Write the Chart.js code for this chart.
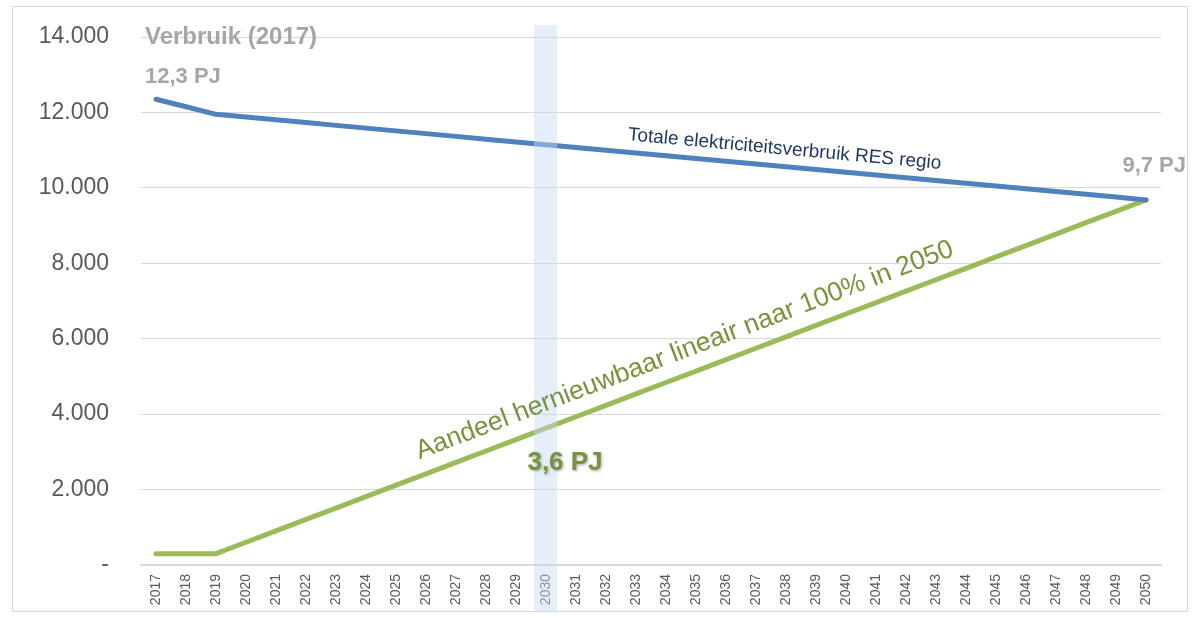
<!DOCTYPE html>
<html>
<head>
<meta charset="utf-8">
<script src="https://cdn.jsdelivr.net/npm/chart.js@4"></script>
<style>
  html, body { margin: 0; padding: 0; background: #fff; }
  #wrap { width: 1192px; height: 618px; }
</style>
</head>
<body>
<div id="wrap"><canvas id="grafiek" width="1192" height="618"></canvas></div>
<script>
const jaren = ['2017', '2018', '2019', '2020', '2021', '2022', '2023', '2024', '2025', '2026', '2027', '2028',
  '2029', '2030', '2031', '2032', '2033', '2034', '2035', '2036', '2037', '2038', '2039', '2040', '2041',
  '2042', '2043', '2044', '2045', '2046', '2047', '2048', '2049', '2050']

const verbruik = [12350, 12150, 11950, 11877, 11804, 11730, 11657, 11584, 11511, 11438, 11365, 11291,
  11218, 11145, 11072, 10999, 10926, 10852, 10779, 10706, 10633, 10560, 10487, 10413, 10340,
  10267, 10194, 10121, 10048, 9974, 9901, 9828, 9755, 9680]

const hernieuwbaar = [300, 300, 300, 603, 905, 1208, 1510, 1813, 2116, 2418, 2721, 3023,
  3326, 3629, 3931, 4234, 4537, 4839, 5142, 5444, 5747, 6050, 6352, 6655, 6957,
  7260, 7563, 7865, 8168, 8470, 8773, 9076, 9378, 9680]

const yTicks = [0, 2000, 4000, 6000, 8000, 10000, 12000, 14000]

const grijs = '#A6A6A6'
const groenTekst = '#77933C'

const annotaties = {
  id: 'annotaties',
  beforeDraw(chart) {
    const ctx = chart.ctx
    ctx.save()
    ctx.strokeStyle = '#D9D9D9'
    ctx.lineWidth = 1
    ctx.strokeRect(12.5, 6.5, 1175, 605)
    ctx.restore()
  },
  afterDatasetsDraw(chart) {
    const ctx = chart.ctx
    const x = chart.scales.x
    const y = chart.scales.y

    // markering 2030
    const x30 = x.getPixelForValue(jaren.indexOf('2030'))
    ctx.save()
    ctx.fillStyle = 'rgba(198, 217, 241, 0.45)'
    ctx.fillRect(x30 - 12, 25, 23, 587)
    ctx.restore()

    ctx.save()
    ctx.font = 'bold 24px "Liberation Sans"'
    ctx.fillStyle = grijs
    ctx.textBaseline = 'middle'
    ctx.textAlign = 'left'
    ctx.fillText('Verbruik (2017)', 145, 37)
    ctx.font = 'bold 22px "Liberation Sans"'
    ctx.fillText('12,3 PJ', 145, 77)
    ctx.textAlign = 'right'
    ctx.fillText('9,7 PJ', 1186, 166)
    ctx.restore()

    // tekst langs de lijnen
    const langs = (data, i0, i1, pos, tekst, font, kleur, offset) => {
      const xa = x.getPixelForValue(i0), ya = y.getPixelForValue(data[i0])
      const xb = x.getPixelForValue(i1), yb = y.getPixelForValue(data[i1])
      const hoek = Math.atan2(yb - ya, xb - xa)
      const i = Math.floor(pos), f = pos - i
      const px = x.getPixelForValue(pos)
      const py = y.getPixelForValue(data[i] + (data[i + 1] - data[i]) * f)
      ctx.save()
      ctx.translate(px, py)
      ctx.rotate(hoek)
      ctx.font = font
      ctx.fillStyle = kleur
      ctx.textAlign = 'center'
      ctx.textBaseline = 'alphabetic'
      ctx.fillText(tekst, 0, -offset)
      ctx.restore()
    }
    langs(verbruik, 2, 33, 20.9, 'Totale elektriciteitsverbruik RES regio', '19px "Liberation Sans"', '#1F3864', 12)
    langs(hernieuwbaar, 2, 33, 17.9, 'Aandeel hernieuwbaar lineair naar 100% in 2050', '26.5px "Liberation Sans"', groenTekst, 16)

    ctx.save()
    ctx.font = 'bold 26px "Liberation Sans"'
    ctx.textAlign = 'center'
    ctx.textBaseline = 'middle'
    ctx.shadowColor = 'rgba(0,0,0,0.35)'
    ctx.shadowBlur = 3
    ctx.shadowOffsetX = 1
    ctx.shadowOffsetY = 1
    ctx.fillStyle = groenTekst
    ctx.fillText('3,6 PJ', x30 + 19, 463)
    ctx.restore()
  }
}

new Chart(document.querySelector('#grafiek'), {
  type: 'line',
  data: {
    labels: jaren,
    datasets: [{
      label: 'Totale elektriciteitsverbruik RES regio',
      data: verbruik,
      borderColor: '#4F81BD',
      borderWidth: 5,
      borderCapStyle: 'round',
      borderJoinStyle: 'round',
      pointRadius: 0,
      tension: 0
    },
    {
      label: 'Aandeel hernieuwbaar',
      data: hernieuwbaar,
      borderColor: '#9BBB59',
      borderWidth: 5,
      borderCapStyle: 'round',
      borderJoinStyle: 'round',
      pointRadius: 0,
      tension: 0
    }]
  },
  options: {
    responsive: false,
    animation: false,
    layout: {
      padding: { left: 12, right: 31, top: 37, bottom: 6 }
    },
    plugins: {
      legend: { display: false },
      tooltip: { enabled: false }
    },
    scales: {
      x: {
        offset: true,
        grid: { display: false, drawTicks: false },
        border: { color: '#D9D9D9', width: 2 },
        ticks: {
          minRotation: 90,
          maxRotation: 90,
          autoSkip: false,
          padding: 9,
          color: '#595959',
          font: { family: 'Liberation Sans', size: 14 }
        },
        afterFit(scale) {
          scale.height = 47
          scale.paddingLeft = 0
          scale.paddingRight = 0
        }
      },
      y: {
        min: 0,
        max: 14000,
        afterBuildTicks(scale) { scale.ticks = yTicks.map(v => ({ value: v })) },
        grid: { color: '#D9D9D9', lineWidth: 1, drawTicks: false },
        border: { display: false },
        ticks: {
          padding: 32,
          color: '#595959',
          font: { family: 'Liberation Sans', size: 23 },
          callback: v => v === 0 ? '-' : v.toLocaleString('nl-NL')
        },
        afterFit(scale) {
          scale.width = 129
          scale.paddingTop = 0
          scale.paddingBottom = 0
        }
      }
    }
  },
  plugins: [annotaties]
})
</script>
</body>
</html>
